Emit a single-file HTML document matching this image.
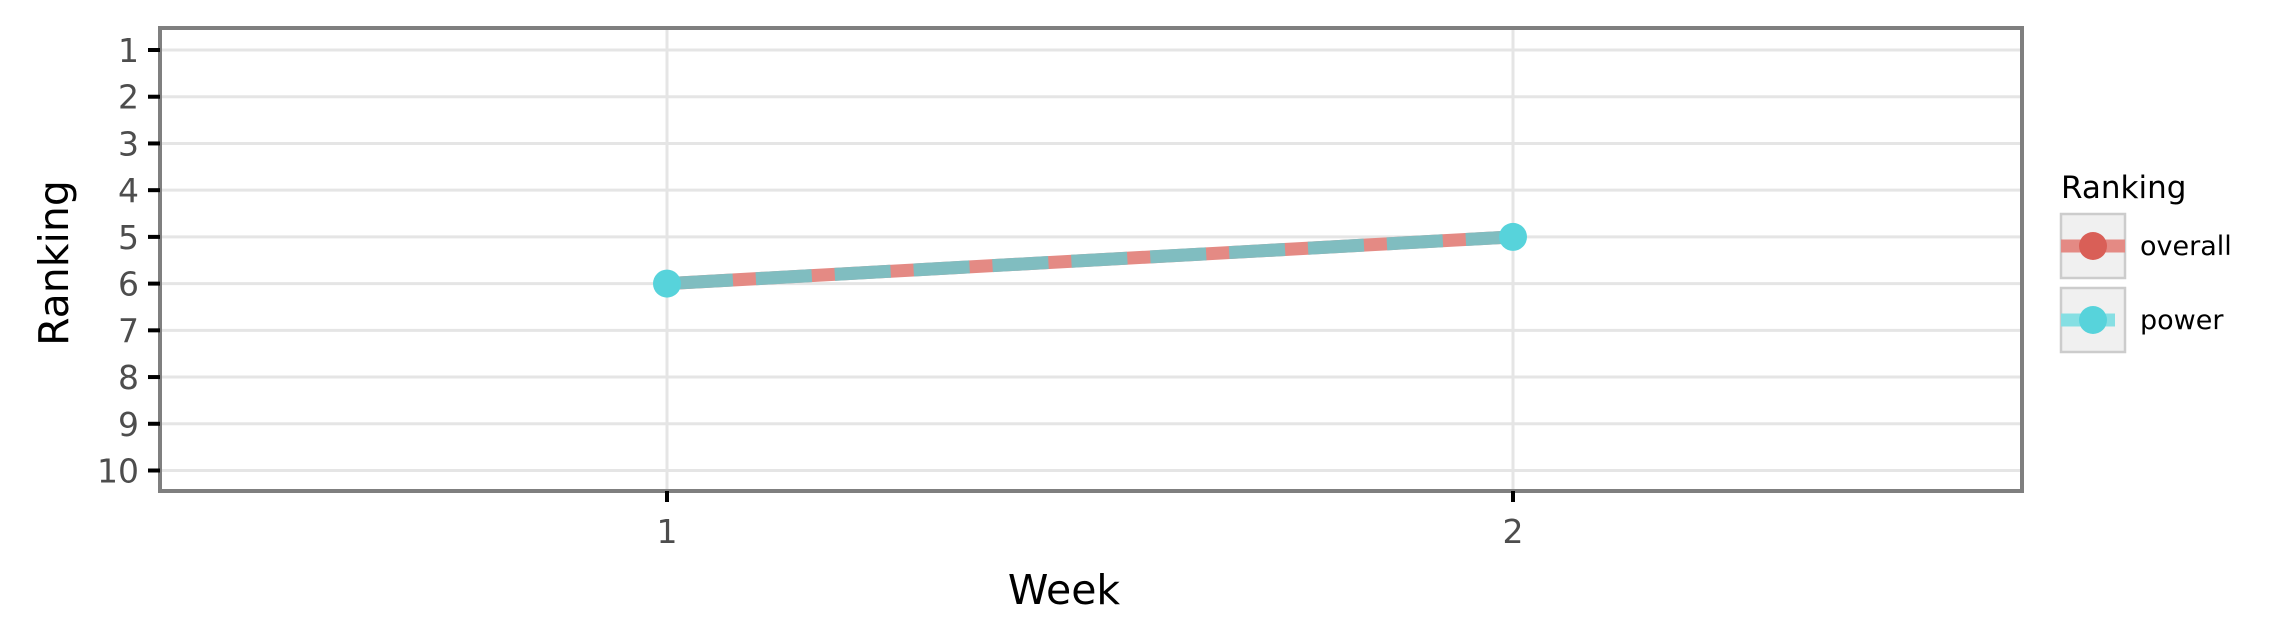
<!DOCTYPE html>
<html><head><meta charset="utf-8"><style>
body{margin:0;background:#fff;}
svg{display:block;font-family:"DejaVu Sans","Liberation Sans",sans-serif;}
</style></head><body>
<svg id="chart" width="2276" height="642" viewBox="0 0 2276 642">
<g id="grid"></g>
<g id="marks"></g>
<rect x="160" y="28" width="1862" height="463" fill="none" stroke="#7f7f7f" stroke-width="4"/>
<g id="axes"></g>
<text x="1064" y="604" font-size="41" text-anchor="middle" fill="#000">Week</text>
<text transform="translate(68,263) rotate(-90)" font-size="41" text-anchor="middle" fill="#000">Ranking</text>
<g>
<text x="2061" y="198" font-size="31" fill="#000">Ranking</text>
<g>
<rect x="2061" y="214" width="64" height="64" fill="#f0f0f0" stroke="#cccccc" stroke-width="2.5"/>
<line x1="2061" y1="246" x2="2125" y2="246" stroke="#e48a84" stroke-width="13"/>
<circle cx="2093" cy="246" r="14" fill="#d95f57"/>
<text x="2140" y="255" font-size="27" fill="#000">overall</text>
</g>
<g>
<rect x="2061" y="288" width="64" height="64" fill="#f0f0f0" stroke="#cccccc" stroke-width="2.5"/>
<line x1="2061" y1="320" x2="2115" y2="320" stroke="#86dfe3" stroke-width="13"/>
<circle cx="2093" cy="320" r="14" fill="#57d3db"/>
<text x="2140" y="329" font-size="27" fill="#000">power</text>
</g>
</g>
</svg>
<script>
const weeks=[1,2];
const overall=[6,5];
const power=[6,5];
const yTicks=[1,2,3,4,5,6,7,8,9,10];
const xTicks=[1,2];
const NS="http://www.w3.org/2000/svg";
function x(v){return 667+(v-1)*(1513-667);}
function y(v){return 50+(v-1)*(470.5-50)/9;}
function mk(tag,attrs,parent){const e=document.createElementNS(NS,tag);for(const k in attrs)e.setAttribute(k,attrs[k]);parent.appendChild(e);return e;}
const grid=document.getElementById('grid'),axes=document.getElementById('axes'),marks=document.getElementById('marks');
yTicks.forEach(t=>{
 const g=mk('line',{x1:160,x2:2022,y1:y(t),y2:y(t),stroke:'#e5e5e5','stroke-width':3},grid);
 
 
 const tk=mk('line',{x1:148,x2:160,y1:y(t),y2:y(t),stroke:'#000','stroke-width':4},axes);
 
 
 const l=mk('text',{x:139,y:y(t)+12,'font-size':33,'text-anchor':'end',fill:'#4d4d4d'},axes);
 l.textContent=t;
 
 
});
xTicks.forEach(t=>{
 const g=mk('line',{x1:x(t),x2:x(t),y1:28,y2:491,stroke:'#e5e5e5','stroke-width':3},grid);
 
 
 const tk=mk('line',{x1:x(t),x2:x(t),y1:491,y2:502,stroke:'#000','stroke-width':4},axes);
 
 
 const l=mk('text',{x:x(t),y:543,'font-size':33,'text-anchor':'middle',fill:'#4d4d4d'},axes);
 l.textContent=t;
 
 
});
function pts(arr){return arr.map((v,i)=>x(weeks[i])+','+y(v)).join(' ');}
const lo=mk('polyline',{points:pts(overall),fill:'none',stroke:'#e48a84','stroke-width':13},marks);


const lp=mk('polyline',{points:pts(power),fill:'none',stroke:'#80bdc0','stroke-width':13,'stroke-dasharray':'56 23','stroke-dashoffset':'-10'},marks);


overall.forEach((v,i)=>{
 const c=mk('circle',{cx:x(weeks[i]),cy:y(v),r:13,fill:'#d95f57'},marks);
 
 
});
power.forEach((v,i)=>{
 const c=mk('circle',{cx:x(weeks[i]),cy:y(v),r:14,fill:'#57d3db'},marks);
 
 
});
</script>
</body></html>
